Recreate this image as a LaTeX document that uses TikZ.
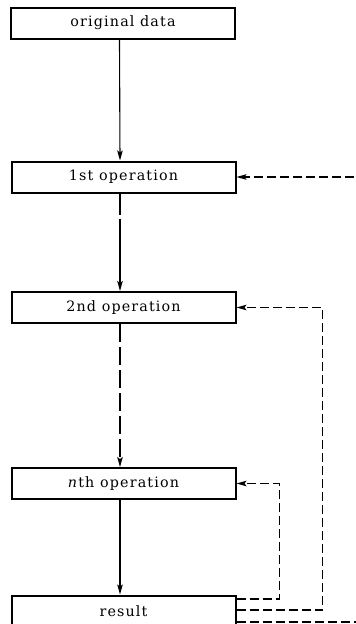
\documentclass[tikz,border=0pt]{standalone}
\usepackage{fontspec}
\setmainfont{DejaVu Serif}[LetterSpace=8.0]
\usetikzlibrary{arrows.meta}
\begin{document}
\begin{tikzpicture}[x=1pt,y=-1pt,
  opbox/.style={draw,line width=2pt,minimum width=224pt,minimum height=31pt,inner sep=0pt,font=\fontsize{14.3}{16}\selectfont},
  tip/.style={-{Stealth[length=10pt,width=5.5pt,inset=2pt]}},
  flow/.style={line width=1.1pt,tip},
  fb/.style={line width=1.2pt,dash pattern=on 9pt off 4pt,tip}]
\useasboundingbox (0,0) rectangle (356,624);
\node[opbox] (o) at (123,23) {original data};
\node[opbox] (a) at (123.5,177) {1st operation};
\node[opbox] (b) at (123.5,307.5) {2nd operation};
\node[opbox] (n) at (123.5,483.5) {\textit{n}th operation};
\node[opbox] (r) at (123.5,611) {result};
\draw[flow] ([xshift=-3.5pt]o.south) -- ([xshift=-3.5pt]a.north);
\draw[flow,dash pattern=on 21pt off 4pt on 200pt] ([xshift=-3.5pt]a.south) -- ([xshift=-3.5pt]b.north);
\draw[flow,dash pattern=on 18pt off 5pt] ([xshift=-3.5pt]b.south) -- ([xshift=-3.5pt]n.north);
\draw[flow] ([xshift=-3.5pt]n.south) -- ([xshift=-3.5pt]r.north);
\draw[fb] ([yshift=12pt]r.east) -- ++(43,0) coordinate (c1) |- (n.east);
\draw[fb] ([yshift=1pt]r.east) -- ++(86,0) coordinate (c2) |- (b.east);
\draw[fb] ([yshift=-11pt]r.east) -- ++(135,0) coordinate (c3) |- (a.east);
\end{tikzpicture}
\end{document}
